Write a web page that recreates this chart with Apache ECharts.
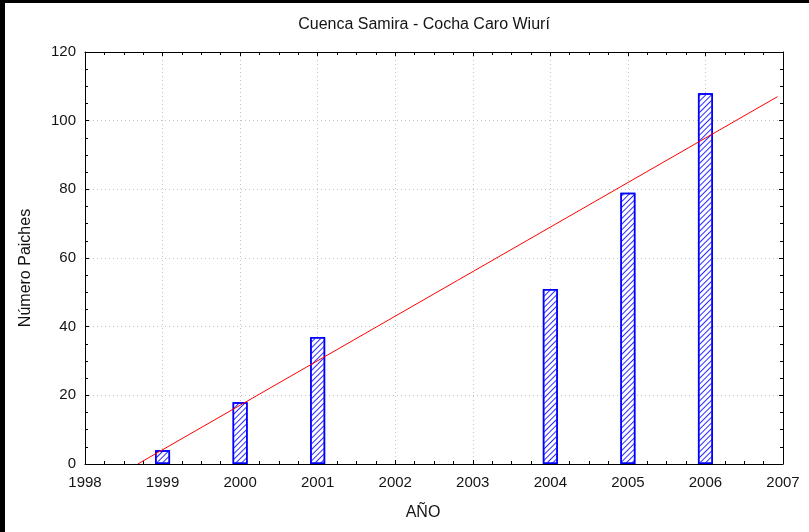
<!DOCTYPE html>
<html>
<head>
<meta charset="utf-8">
<title>Cuenca Samira - Cocha Caro Wiurí</title>
<script src="https://cdn.jsdelivr.net/npm/echarts@6/dist/echarts.min.js"></script>
<style>
  html, body { margin: 0; padding: 0; background: #000; }
  #frame { position: relative; width: 809px; height: 532px; background: #000; overflow: hidden; }
  #chart { position: absolute; left: 5px; top: 3px; width: 804px; height: 529px; background: #fff; }
</style>
</head>
<body>
<div id="frame"><div id="chart"></div></div>
<script>
// Yearly paiche counts
const years = [1999, 2000, 2001, 2004, 2005, 2006];
const counts = [4, 18, 37, 51, 79, 108];
// Fitted trend line end points [year, count]
const trendStart = [1998.68, 0];
const trendEnd = [2006.93, 107];
// Axis ranges
const xRange = [1998, 2007];
const yRange = [0, 120];

const FONT = '"Liberation Sans", Arial, sans-serif';
const TXT = '#141414';

const chart = echarts.init(document.getElementById('chart'), null, { renderer: 'canvas' });

const tickCommon = {
  axisLine: { show: true, onZero: false, lineStyle: { color: '#000', width: 1 } },
  axisTick: { show: true, inside: true, length: 4, lineStyle: { color: '#000' } },
  minorTick: { show: true, splitNumber: 4, length: 3, lineStyle: { color: '#000' } }
};

const gridLine = { show: true, lineStyle: { color: '#c4c4c4', type: [1, 3], width: 1 } };

const option = {
  animation: false,
  backgroundColor: '#fff',
  title: {
    text: 'Cuenca Samira - Cocha Caro Wiurí',
    left: 414, top: 9, textAlign: 'center',
    textStyle: { fontFamily: FONT, fontSize: 16, fontWeight: 'normal', color: TXT }
  },
  grid: { left: 80, top: 49, right: 26, bottom: 68, containLabel: false },
  graphic: [
    {
      type: 'text', x: 21, y: 265, rotation: Math.PI / 2,
      style: {
        text: 'Número Paiches', fontFamily: FONT, fontSize: 16, fill: TXT,
        textAlign: 'center', textVerticalAlign: 'middle'
      }
    },
    {
      type: 'text', x: 418, y: 510,
      style: {
        text: 'AÑO', fontFamily: FONT, fontSize: 16, fill: TXT,
        textAlign: 'center', textVerticalAlign: 'middle'
      }
    }
  ],
  xAxis: [
    Object.assign({
      type: 'value', position: 'bottom',
      min: xRange[0], max: xRange[1], interval: 1,
      axisLabel: { fontFamily: FONT, fontSize: 15, color: TXT, margin: 11, formatter: v => String(v) },
      splitLine: gridLine
    }, tickCommon),
    Object.assign({
      type: 'value', position: 'top',
      min: xRange[0], max: xRange[1], interval: 1,
      axisLabel: { show: false }, splitLine: { show: false }
    }, tickCommon)
  ],
  yAxis: [
    Object.assign({
      type: 'value', position: 'left',
      min: yRange[0], max: yRange[1], interval: 20,
      axisLabel: { fontFamily: FONT, fontSize: 15, color: TXT, margin: 9 },
      splitLine: gridLine
    }, tickCommon),
    Object.assign({
      type: 'value', position: 'right',
      min: yRange[0], max: yRange[1], interval: 20,
      axisLabel: { show: false }, splitLine: { show: false }
    }, tickCommon)
  ],
  series: [
    {
      type: 'bar',
      xAxisIndex: 0, yAxisIndex: 0,
      data: years.map((y, i) => [y, counts[i]]),
      barWidth: 15,
      itemStyle: {
        color: '#ffffff',
        borderColor: '#0000ff',
        borderWidth: 1.5,
        decal: {
          symbol: 'rect',
          color: '#2b2bff',
          dashArrayX: [1, 0],
          dashArrayY: [1, 3],
          rotation: -Math.PI / 4
        }
      },
      z: 2
    },
    {
      type: 'line',
      xAxisIndex: 0, yAxisIndex: 0,
      data: [trendStart, trendEnd],
      showSymbol: false,
      symbol: 'none',
      lineStyle: { color: '#ff0000', width: 1 },
      z: 5
    }
  ]
};

chart.setOption(option);
</script>
</body>
</html>
